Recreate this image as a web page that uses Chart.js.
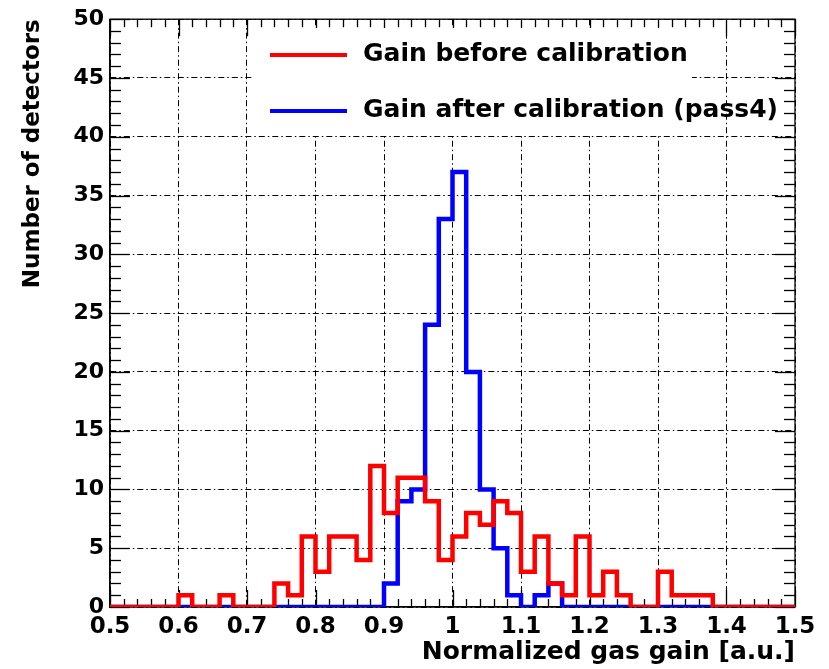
<!DOCTYPE html>
<html>
<head>
<meta charset="utf-8">
<script src="https://cdn.jsdelivr.net/npm/chart.js@4/dist/chart.umd.min.js"></script>
<style>
html,body{margin:0;padding:0;background:#fff;}
#c{display:block;}
</style>
</head>
<body>
<canvas id="c" width="829" height="669"></canvas>
<script>
// ---- data ----
const binEdges = [0.50,0.52,0.54,0.56,0.58,0.60,0.62,0.64,0.66,0.68,
                  0.70,0.72,0.74,0.76,0.78,0.80,0.82,0.84,0.86,0.88,
                  0.90,0.92,0.94,0.96,0.98,1.00,1.02,1.04,1.06,1.08,
                  1.10,1.12,1.14,1.16,1.18,1.20,1.22,1.24,1.26,1.28,
                  1.30,1.32,1.34,1.36,1.38,1.40,1.42,1.44,1.46,1.48];
const gainBefore = [0,0,0,0,0, 1,0,0,1,0, 0,0,2,1,6, 3,6,6,4,12,
                    8,11,11,9,4, 6,8,7,9,8, 3,6,2,1,6, 1,3,1,0,0,
                    3,1,1,1,0, 0,0,0,0,0];
const gainAfter  = [0,0,0,0,0, 0,0,0,0,0, 0,0,0,0,0, 0,0,0,0,0,
                    2,9,10,24,33, 37,20,10,5,1, 0,1,2,0,0, 0,0,0,0,0,
                    0,0,0,0,0, 0,0,0,0,0];
const seriesLabels = ['Gain before calibration', 'Gain after calibration (pass4)'];
const xTickValues = [0.5,0.6,0.7,0.8,0.9,1.0,1.1,1.2,1.3,1.4,1.5];
const xTickLabels = ['0.5','0.6','0.7','0.8','0.9','1','1.1','1.2','1.3','1.4','1.5'];
const yTickValues = [0,5,10,15,20,25,30,35,40,45,50];
const yTickLabels = ['0','5','10','15','20','25','30','35','40','45','50'];
const xTitle = 'Normalized gas gain [a.u.]';
const yTitle = 'Number of detectors';

const X_MIN = xTickValues[0], X_MAX = xTickValues[xTickValues.length - 1];
const Y_MIN = yTickValues[0], Y_MAX = yTickValues[yTickValues.length - 1];

function toSteps(vals) {
  const pts = binEdges.map((e, i) => ({x: e, y: vals[i]}));
  pts.push({x: X_MAX, y: vals[vals.length - 1]});
  return pts;
}

const FONT = 'DejaVu Sans';
const GRID_DASH = [6, 3, 1.5, 3];

const framePlugin = {
  id: 'frame',
  beforeDatasetsDraw(chart) {
    const {ctx, chartArea: a, scales: {x, y}} = chart;
    ctx.save();
    ctx.setLineDash([]);
    ctx.strokeStyle = '#000';
    ctx.lineWidth = 1.3;
    const line = (x1, y1, x2, y2) => { ctx.beginPath(); ctx.moveTo(x1, y1); ctx.lineTo(x2, y2); ctx.stroke(); };
    // x ticks (minor at every bin edge, major at labelled values), bottom and top
    binEdges.concat([X_MAX]).forEach(v => {
      const px = Math.round(x.getPixelForValue(v)) + 0.5;
      const major = xTickValues.some(t => Math.abs(t - v) < 1e-9);
      const L = major ? 17 : 8;
      line(px, a.bottom, px, a.bottom - L);
      line(px, a.top, px, a.top + L);
    });
    // y ticks, left and right
    for (let v = Y_MIN; v <= Y_MAX; v++) {
      const py = Math.round(y.getPixelForValue(v)) + 0.5;
      const major = yTickValues.includes(v);
      const L = major ? 20 : 11;
      line(a.left, py, a.left + L, py);
      line(a.right, py, a.right - L, py);
    }
    ctx.strokeRect(a.left, a.top, a.right - a.left, a.bottom - a.top);
    // legend box (white, covers the grid)
    ctx.fillStyle = '#fff';
    ctx.fillRect(253, 28, 692 - 253, 135 - 28);
    ctx.restore();
  }
};

const legendPlugin = {
  id: 'histLegend',
  afterDatasetsDraw(chart) {
    const {ctx} = chart;
    const rows = [{y: 55}, {y: 111}];
    ctx.save();
    ctx.setLineDash([]);
    chart.data.datasets.forEach((ds, i) => {
      const ry = rows[i].y;
      ctx.strokeStyle = ds.borderColor;
      ctx.lineWidth = 4;
      ctx.beginPath(); ctx.moveTo(270, ry); ctx.lineTo(347, ry); ctx.stroke();
      ctx.fillStyle = '#000';
      ctx.font = 'bold 25px "' + FONT + '"';
      ctx.textAlign = 'left';
      ctx.textBaseline = 'middle';
      ctx.fillText(ds.label, 363, ry - 1);
    });
    ctx.restore();
  }
};

new Chart(document.getElementById('c'), {
  type: 'line',
  data: {
    datasets: [
      {label: seriesLabels[0], data: toSteps(gainBefore), borderColor: '#ff0000', backgroundColor: '#ff0000',
       borderWidth: 4.5, stepped: 'before', pointRadius: 0, fill: false},
      {label: seriesLabels[1], data: toSteps(gainAfter), borderColor: '#0000ff', backgroundColor: '#0000ff',
       borderWidth: 4.5, stepped: 'before', pointRadius: 0, fill: false}
    ]
  },
  options: {
    responsive: false,
    animation: false,
    devicePixelRatio: 1,
    events: [],
    layout: {padding: {left: 0, right: 34, top: 18, bottom: 0}},
    plugins: {legend: {display: false}, tooltip: {enabled: false}},
    scales: {
      x: {
        type: 'linear', min: X_MIN, max: X_MAX,
        afterFit(s) { s.height = 62; },
        afterBuildTicks(s) { s.ticks = xTickValues.map(v => ({value: v})); },
        ticks: {
          callback: (v, i) => xTickLabels[i],
          font: {family: FONT, size: 23, weight: 'bold'}, color: '#000',
          padding: 6, maxRotation: 0, autoSkip: false
        },
        grid: {color: '#000', lineWidth: 1, drawTicks: false},
        border: {display: true, color: '#000', width: 1.3, dash: GRID_DASH},
        title: {display: true, text: xTitle, align: 'end', color: '#000',
                font: {family: FONT, size: 25, weight: 'bold'}, padding: {top: 0, bottom: 2}}
      },
      y: {
        type: 'linear', min: Y_MIN, max: Y_MAX,
        afterFit(s) { s.width = 110; },
        afterBuildTicks(s) { s.ticks = yTickValues.map(v => ({value: v})); },
        ticks: {
          callback: (v, i) => yTickLabels[i],
          font: {family: FONT, size: 22, weight: 'bold'}, color: '#000',
          padding: 6, autoSkip: false
        },
        grid: {color: '#000', lineWidth: 1, drawTicks: false},
        border: {display: true, color: '#000', width: 1.3, dash: GRID_DASH},
        title: {display: true, text: yTitle, align: 'end', color: '#000',
                font: {family: FONT, size: 23, weight: 'bold'}, padding: {top: 19, bottom: 0}}
      }
    }
  },
  plugins: [framePlugin, legendPlugin]
});
</script>
</body>
</html>
